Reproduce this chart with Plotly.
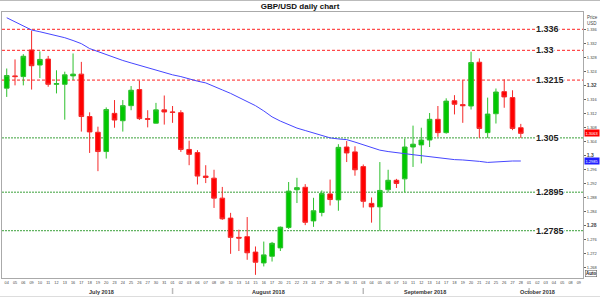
import plotly.graph_objects as go
import pandas as pd

# ---- data -------------------------------------------------------------
slots = pd.bdate_range("2018-07-04", "2018-10-09")
slot_labels = [d.strftime("%Y-%m-%d") for d in slots]
day_labels = [d.strftime("%d") for d in slots]

opens = [1.3192, 1.3227, 1.3225, 1.3301, 1.3258, 1.3275, 1.3203, 1.3203, 1.3227, 1.3232,
         1.3111, 1.3066, 1.3011, 1.3120, 1.3099, 1.3142, 1.3188, 1.3105, 1.3092, 1.3130,
         1.3124, 1.3122, 1.3017, 1.3008, 1.2941, 1.2935, 1.2878, 1.2821, 1.2766, 1.2768,
         1.2724, 1.2693, 1.2712, 1.2736, 1.2794, 1.2902, 1.2909, 1.2813, 1.2837, 1.2890,
         1.2873, 1.3024, 1.3010, 1.2968, 1.2863, 1.2853, 1.2902, 1.2929, 1.2933, 1.3024,
         1.3030, 1.3044, 1.3103, 1.3065, 1.3156, 1.3145, 1.3141, 1.3266, 1.3065, 1.3119,
         1.3182, 1.3165, 1.3079]
highs = [1.3248, 1.3274, 1.3289, 1.3356, 1.3297, 1.3284, 1.3243, 1.3239, 1.3291, 1.3267,
         1.3123, 1.3082, 1.3137, 1.3158, 1.3158, 1.3198, 1.3214, 1.3129, 1.3150, 1.3171,
         1.3141, 1.3129, 1.3042, 1.3015, 1.2972, 1.2959, 1.2910, 1.2836, 1.2788, 1.2824,
         1.2740, 1.2754, 1.2753, 1.2797, 1.2924, 1.2936, 1.2918, 1.2879, 1.2900, 1.2931,
         1.3032, 1.3041, 1.3026, 1.2974, 1.2880, 1.2981, 1.2959, 1.2933, 1.3048, 1.3085,
         1.3079, 1.3121, 1.3141, 1.3163, 1.3172, 1.3215, 1.3296, 1.3277, 1.3165, 1.3191,
         1.3217, 1.3186, 1.3090]
lows = [1.3167, 1.3200, 1.3200, 1.3188, 1.3221, 1.3196, 1.3177, 1.3102, 1.3215, 1.3068,
        1.3007, 1.2955, 1.2991, 1.3079, 1.3068, 1.3129, 1.3101, 1.3080, 1.3091, 1.3088,
        1.3093, 1.3010, 1.2972, 1.2917, 1.2921, 1.2850, 1.2816, 1.2719, 1.2727, 1.2702,
        1.2659, 1.2683, 1.2697, 1.2727, 1.2790, 1.2864, 1.2801, 1.2796, 1.2826, 1.2857,
        1.2842, 1.2981, 1.2942, 1.2851, 1.2808, 1.2785, 1.2894, 1.2907, 1.2895, 1.2967,
        1.2977, 1.3024, 1.3053, 1.3062, 1.3117, 1.3093, 1.3131, 1.3050, 1.3050, 1.3091,
        1.3136, 1.3072, 1.3050]
closes = [1.3228, 1.3225, 1.3283, 1.3256, 1.3274, 1.3203, 1.3205, 1.3230, 1.3232, 1.3111,
          1.3067, 1.3011, 1.3131, 1.3101, 1.3142, 1.3186, 1.3105, 1.3103, 1.3130, 1.3124,
          1.3123, 1.3017, 1.3003, 1.2941, 1.2937, 1.2878, 1.2819, 1.2766, 1.2764, 1.2722,
          1.2695, 1.2716, 1.2749, 1.2795, 1.2898, 1.2908, 1.2809, 1.2842, 1.2891, 1.2874,
          1.3023, 1.3007, 1.2959, 1.2869, 1.2853, 1.2900, 1.2929, 1.2920, 1.3024, 1.3032,
          1.3044, 1.3103, 1.3065, 1.3155, 1.3146, 1.3142, 1.3265, 1.3077, 1.3118, 1.3181,
          1.3167, 1.3077, 1.3063]
moving_avg = [1.3393, 1.3382, 1.3370, 1.3358, 1.3353, 1.3348, 1.3342, 1.3336, 1.3328, 1.3319,
              1.3305, 1.3296, 1.3287, 1.3279, 1.3271, 1.3264, 1.3257, 1.3249, 1.3242, 1.3236,
              1.3230, 1.3225, 1.3218, 1.3212, 1.3207, 1.3198, 1.3187, 1.3177, 1.3166, 1.3155,
              1.3142, 1.3127, 1.3110, 1.3098, 1.3088, 1.3078, 1.3071, 1.3064, 1.3056, 1.3050,
              1.3047, 1.3045, 1.3038, 1.3031, 1.3022, 1.3015, 1.3011, 1.3009, 1.3005, 1.3002,
              1.2999, 1.2996, 1.2993, 1.2990, 1.2988, 1.2987, 1.2986, 1.2983, 1.2980, 1.2982,
              1.2984, 1.2984, 1.2984]
dates = slot_labels[:len(opens)]

red_levels = [1.336, 1.33, 1.3215]
red_level_text = ["1.336", "1.33", "1.3215"]
green_levels = [1.305, 1.2895, 1.2785]
green_level_text = ["1.305", "1.2895", "1.2785"]

price_ticks = [1.268, 1.272, 1.276, 1.28, 1.284, 1.288, 1.292, 1.296, 1.3,
               1.304, 1.308, 1.312, 1.316, 1.32, 1.324, 1.328, 1.332, 1.336]
major_ticks = [1.28, 1.3, 1.32]

month_names = ["July 2018", "August 2018", "September 2018", "October 2018"]
month_starts = ["2018-08-01", "2018-09-03", "2018-10-01"]
last_price = "1.3063"
ma_last = "1.2985"

# ---- geometry helpers (pixel -> paper) --------------------------------
W, H = 600, 298
L, R, T, B = 2, 583, 12, 278
def px(x):
    return (x - L) / (R - L)
def py(y):
    return (B - y) / (B - T)

FONT = "Liberation Sans, Arial, sans-serif"

fig = go.Figure()
fig.add_trace(go.Candlestick(
    x=dates, open=opens, high=highs, low=lows, close=closes,
    increasing=dict(line=dict(color="#2ec02e", width=1), fillcolor="#00c800"),
    decreasing=dict(line=dict(color="#f52a2a", width=1), fillcolor="#ff0000"),
    whiskerwidth=0, hoverinfo="skip", showlegend=False,
))
fig.add_trace(go.Scatter(
    x=dates, y=moving_avg, mode="lines",
    line=dict(color="#4646ff", width=1), hoverinfo="skip", showlegend=False,
))

shapes = []
annotations = []
for lv, txt in zip(red_levels, red_level_text):
    shapes.append(dict(type="line", xref="paper", x0=0, x1=1, yref="y", y0=lv, y1=lv,
                       line=dict(color="#ff2020", width=1, dash="3px,2px"), layer="below"))
    annotations.append(dict(xref="paper", x=px(535), xanchor="left", yref="y", y=lv,
                            text="<b>%s</b>" % txt, showarrow=False, bgcolor="white",
                            borderpad=0, font=dict(size=9, color="#222222", family=FONT)))
for lv, txt in zip(green_levels, green_level_text):
    shapes.append(dict(type="line", xref="paper", x0=0, x1=1, yref="y", y0=lv, y1=lv,
                       line=dict(color="#3aa03a", width=1, dash="2px,1px"), layer="below"))
    annotations.append(dict(xref="paper", x=px(535), xanchor="left", yref="y", y=lv,
                            text="<b>%s</b>" % txt, showarrow=False, bgcolor="white",
                            borderpad=0, font=dict(size=9, color="#222222", family=FONT)))

# month separators and labels
for d in month_starts:
    shapes.append(dict(type="line", xref="x", x0=d, x1=d, yref="paper",
                       y0=py(288), y1=py(294), line=dict(color="#bbbbbb", width=1.5)))
for name, cx in zip(month_names, [88, 268, 447, 556]):
    annotations.append(dict(xref="paper", x=px(cx), yref="paper", y=py(292),
                            yanchor="middle", text="<b>%s</b>" % name, showarrow=False,
                            borderpad=0, font=dict(size=5.5, color="#333333", family=FONT)))

# outer frame
shapes.append(dict(type="line", xref="paper", yref="paper", x0=px(0), x1=px(600),
                   y0=py(0.5), y1=py(0.5), line=dict(color="#bbbbbb", width=1)))
shapes.append(dict(type="line", xref="paper", yref="paper", x0=px(0), x1=px(600),
                   y0=py(296.5), y1=py(296.5), line=dict(color="#dddddd", width=1)))

# right-side price boxes
annotations.append(dict(xref="paper", x=px(584), xanchor="left", yref="y", y=float(last_price),
                        text=last_price, showarrow=False, bgcolor="#ff0000", borderpad=0.5,
                        font=dict(size=4, color="white", family=FONT)))
annotations.append(dict(xref="paper", x=px(584), xanchor="left", yref="y", y=float(ma_last),
                        text=ma_last, showarrow=False, bgcolor="#2020ff", borderpad=0.5,
                        font=dict(size=4, color="white", family=FONT)))
annotations.append(dict(xref="paper", x=px(585), xanchor="left", yref="paper", y=py(13),
                        yanchor="top", text="Price<br>USD", showarrow=False, align="left",
                        font=dict(size=4.5, color="#444444", family=FONT)))
annotations.append(dict(xref="paper", x=px(585), xanchor="left", yref="paper", y=py(276.5),
                        text="<b>Auto</b>", showarrow=False, bordercolor="#666666",
                        borderwidth=0.6, borderpad=0.3, bgcolor="white",
                        font=dict(size=4.5, color="#222222", family=FONT)))

tick_text = []
for v in price_ticks:
    s = ("%.3f" % v).rstrip("0").rstrip(".")
    if v in major_ticks:
        tick_text.append("<span style='font-size:5px'><b>%s</b></span>" % s)
    else:
        tick_text.append(s)

fig.update_layout(
    width=W, height=H,
    margin=dict(l=L, r=W - R, t=T, b=H - B),
    paper_bgcolor="white", plot_bgcolor="white",
    boxgap=0.2,
    title=dict(text="<b>GBP/USD daily chart</b>", x=0.5, xref="container",
               y=1 - 6.5 / H, yref="container", xanchor="center", yanchor="middle",
               font=dict(size=8, color="#111111", family=FONT)),
    xaxis=dict(type="category", categoryorder="array", categoryarray=slot_labels,
               range=[-0.57, 69.5], tickvals=slot_labels, ticktext=day_labels,
               tickangle=0, tickfont=dict(size=3.8, color="#444444", family=FONT),
               showgrid=False, zeroline=False, showline=True, linecolor="#aaaaaa",
               linewidth=1, mirror=True, ticks="", rangeslider=dict(visible=False),
               fixedrange=True),
    yaxis=dict(side="right", range=[1.26500, 1.34094], tickvals=price_ticks,
               ticktext=tick_text, tickfont=dict(size=4, color="#444444", family=FONT),
               showgrid=False, zeroline=False, showline=True, linecolor="#aaaaaa",
               linewidth=1, mirror=True, ticks="outside", ticklen=2, tickcolor="#666666",
               fixedrange=True),
    shapes=shapes, annotations=annotations,
)

fig.write_html("out.html")
